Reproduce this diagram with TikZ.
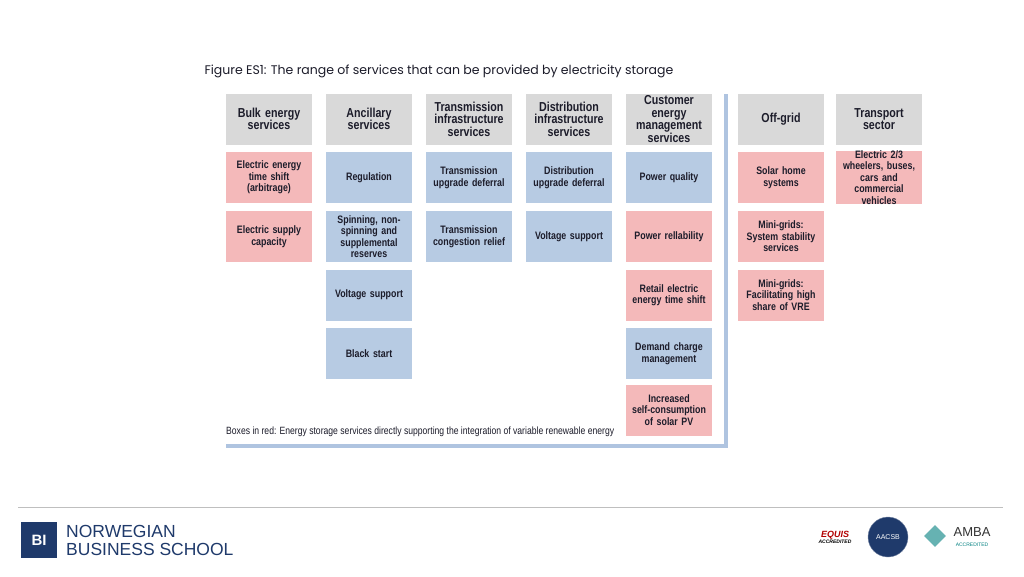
\documentclass[tikz,border=0pt]{standalone}
\usepackage{fontspec}
\setmainfont{Liberation Sans}
\newfontfamily\cond[FakeStretch=0.82]{Liberation Sans}
\newfontfamily\titlefont{Poppins}
\usepackage{tikz}
\usetikzlibrary{shapes.geometric}
\definecolor{graybox}{HTML}{D9D9D9}
\definecolor{pinkbox}{HTML}{F4B9BA}
\definecolor{bluebox}{HTML}{B7CBE3}
\definecolor{frameblue}{HTML}{AFC4E0}
\definecolor{navy}{HTML}{1F3A6B}
\definecolor{inktext}{HTML}{1C1C2A}
\tikzset{
  cell/.style={minimum width=86pt, minimum height=51pt, text width=84pt, align=center,
    inner sep=0pt, font=\cond\bfseries\fontsize{10.8}{11.5}\selectfont, text=inktext},
  head/.style={cell, fill=graybox, font=\cond\bfseries\fontsize{13}{12.5}\selectfont},
  red/.style={cell, fill=pinkbox},
  blue/.style={cell, fill=bluebox}
}
\begin{document}
\begin{tikzpicture}[x=1pt, y=-1pt]
  \useasboundingbox[fill=white] (0,0) rectangle (1024,576);
  % title
  \node[anchor=west, font=\titlefont\fontsize{12.5}{13}\selectfont, text=inktext] (title) at (201,71)
    {Figure ES1: The range of services that can be provided by electricity storage};
  % frame
  \draw[frameblue, line width=4pt] (726,94) -- (726,446) -- (226,446);
  % headers
  \node[head] (bulk) at (269,119) {Bulk energy\\services};
  \node[head] (anc) at (369,119) {Ancillary\\services};
  \node[head] (trans) at (469,119) {Transmission\\infrastructure\\services};
  \node[head] (dist) at (569,119) {Distribution\\infrastructure\\services};
  \node[head] (cust) at (669,119) {Customer\\energy\\management\\services};
  \node[head] (off) at (781,119) {Off-grid};
  \node[head] (tsec) at (879,119) {Transport\\sector};
  % bulk
  \node[red] (b1) at (269,177.5) {Electric energy\\time shift\\(arbitrage)};
  \node[red] (b2) at (269,236.5) {Electric supply\\capacity};
  % ancillary
  \node[blue] (a1) at (369,177.5) {Regulation};
  \node[blue] (a2) at (369,236.5) {Spinning, non-\\spinning and\\supplemental\\reserves};
  \node[blue] (a3) at (369,295) {Voltage support};
  \node[blue] (a4) at (369,353.5) {Black start};
  % transmission
  \node[blue] (t1) at (469,177.5) {Transmission\\upgrade deferral};
  \node[blue] (t2) at (469,236.5) {Transmission\\congestion relief};
  % distribution
  \node[blue] (d1) at (569,177.5) {Distribution\\upgrade deferral};
  \node[blue] (d2) at (569,236.5) {Voltage support};
  % customer
  \node[blue] (c1) at (669,177.5) {Power quality};
  \node[red] (c2) at (669,236.5) {Power rellability};
  \node[red] (c3) at (669,295) {Retail electric\\energy time shift};
  \node[blue] (c4) at (669,353.5) {Demand charge\\management};
  \node[red] (c5) at (669,410) {Increased\\self-consumption\\of solar PV};
  % off-grid
  \node[red] (o1) at (781,177.5) {Solar home\\systems};
  \node[red] (o2) at (781,236.5) {Mini-grids:\\System stability\\services};
  \node[red] (o3) at (781,295) {Mini-grids:\\Facilitating high\\share of VRE};
  % transport
  \node[red] (tr1) at (879,177.5) {Electric 2/3\\wheelers, buses,\\cars and commercial\\vehicles};
  % note
  \node[anchor=west, inner sep=0pt, font=\cond\fontsize{10.5}{10}\selectfont, text=inktext] (note) at (226,432)
    {Boxes in red: Energy storage services directly supporting the integration of variable renewable energy};
  % footer
  \draw[gray!50, line width=1pt] (18,507) -- (1003,507);
  \node[fill=navy, minimum size=36pt, inner sep=0pt, text=white, font=\bfseries\fontsize{15}{15}\selectfont] (bi) at (39,540) {BI};
  \node[anchor=west, align=left, text=navy, inner sep=0pt, font=\fontsize{17.5}{18}\selectfont] (bis) at (66,540)
    {NORWEGIAN\\BUSINESS SCHOOL};
  \node[align=center, inner sep=0pt, font=\bfseries\itshape\fontsize{9}{8}\selectfont, text=red!70!black] (equis) at (835,537)
    {EQUIS\\[-2pt]\tiny\color{black}ACCREDITED};
  \node[circle, fill=navy, draw=navy!60, minimum size=40pt, inner sep=0pt, text=white, font=\fontsize{7}{7}\selectfont] (aacsb) at (888,537) {AACSB};
  \node[align=center, inner sep=0pt, font=\fontsize{13}{11}\selectfont, text=black!80] (amba) at (972,537)
    {AMBA\\[-1pt]\tiny\color{teal}ACCREDITED};
  \node[diamond, fill=teal!60, minimum size=22pt, inner sep=0pt] (gem) at (935,536) {};
\end{tikzpicture}
\end{document}
